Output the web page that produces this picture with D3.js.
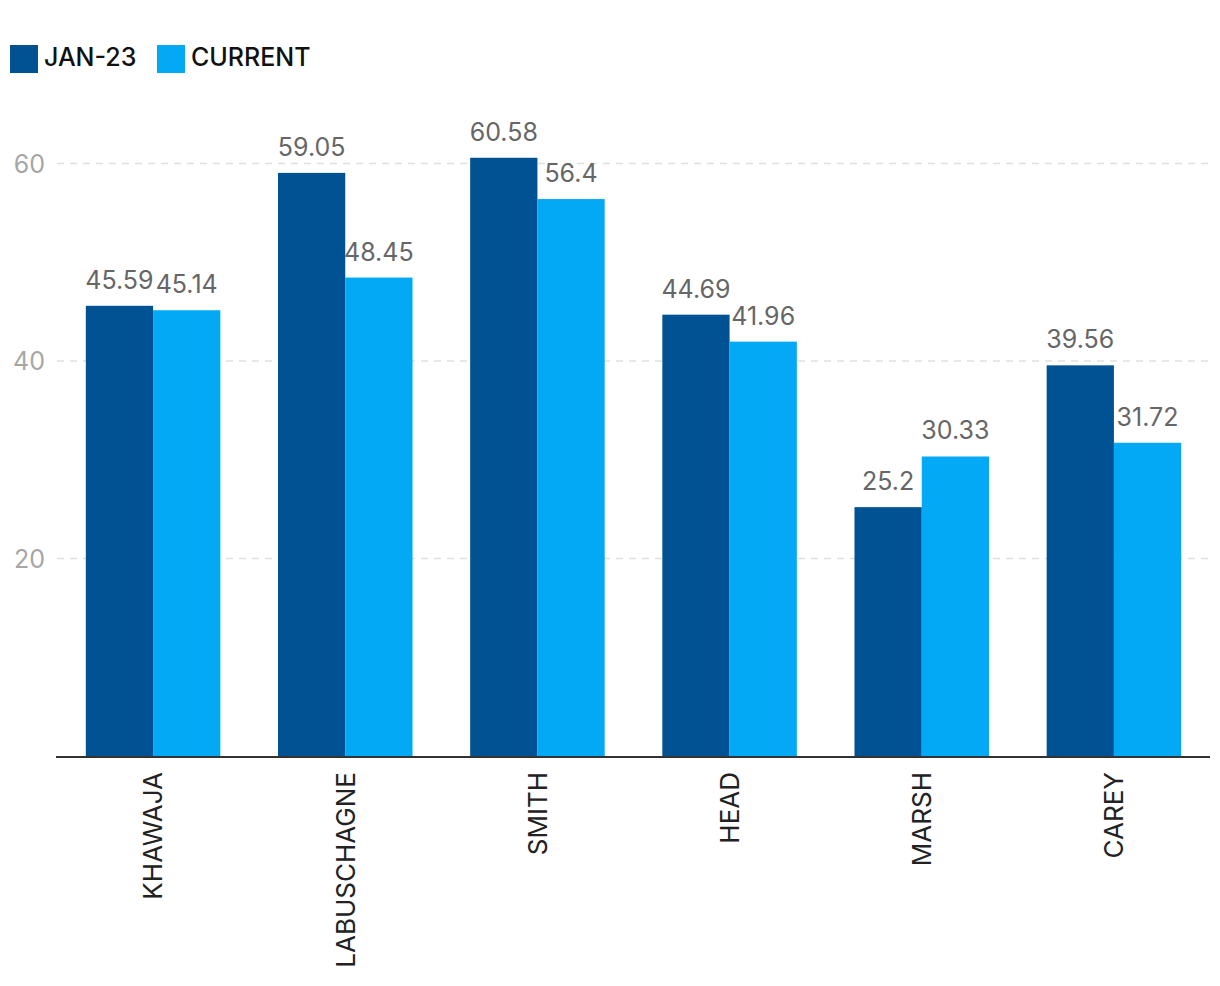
<!DOCTYPE html>
<html>
<head>
<meta charset="utf-8">
<script src="https://cdn.jsdelivr.net/npm/d3@7"></script>
<style>
  html, body { margin: 0; padding: 0; background: #fff; }
  svg { display: block; font-family: Inter, "Liberation Sans", Arial, sans-serif; }
</style>
</head>
<body>
<svg id="chart" width="1220" height="986"></svg>
<script>
const categories = ["KHAWAJA", "LABUSCHAGNE", "SMITH", "HEAD", "MARSH", "CAREY"];
const seriesNames = ["JAN-23", "CURRENT"];
const jan23 = [45.59, 59.05, 60.58, 44.69, 25.2, 39.56];
const current = [45.14, 48.45, 56.4, 41.96, 30.33, 31.72];
const yTicks = [20, 40, 60];
const colors = ["#005293", "#03a9f4"];

const svg = d3.select("#chart");
const x0 = d3.scaleBand().domain(categories).range([57, 1210]).paddingInner(0.3).paddingOuter(0.15);
const x1 = d3.scaleBand().domain(seriesNames).range([0, x0.bandwidth()]);
const y = d3.scaleLinear().domain([0, 60]).range([756, 163.5]);

// gridlines
svg.append("g").selectAll("line").data(yTicks).join("line")
  .attr("x1", 57).attr("x2", 1210)
  .attr("y1", d => y(d)).attr("y2", d => y(d))
  .attr("stroke", "#e0e0e0").attr("stroke-width", 1.5).attr("stroke-dasharray", "7,6");

// y tick labels
svg.append("g").selectAll("text").data(yTicks).join("text")
  .attr("x", 45).attr("y", d => y(d)).attr("dy", "0.36em")
  .attr("text-anchor", "end").attr("fill", "#a6a6a6").attr("font-size", 25)
  .text(d => d);

const data = categories.map((c, i) => ({ cat: c, vals: [jan23[i], current[i]] }));

const groups = svg.append("g").selectAll("g").data(data).join("g")
  .attr("transform", d => `translate(${x0(d.cat)},0)`);

groups.selectAll("rect").data(d => d.vals.map((v, j) => ({ v, s: seriesNames[j], j }))).join("rect")
  .attr("x", d => x1(d.s)).attr("width", x1.bandwidth())
  .attr("y", d => y(d.v)).attr("height", d => y(0) - y(d.v))
  .attr("fill", d => colors[d.j]);

groups.selectAll("text.val").data(d => d.vals.map((v, j) => ({ v, s: seriesNames[j], j }))).join("text")
  .attr("class", "val")
  .attr("x", d => x1(d.s) + x1.bandwidth() / 2).attr("y", d => y(d.v) - 17)
  .attr("text-anchor", "middle").attr("fill", "#666").attr("font-size", 25)
  .text(d => d.v);

// x axis line
svg.append("line").attr("x1", 56).attr("x2", 1210).attr("y1", 757).attr("y2", 757)
  .attr("stroke", "#333").attr("stroke-width", 2);

// category labels
svg.append("g").selectAll("text").data(categories).join("text")
  .attr("transform", d => `translate(${x0(d) + x0.bandwidth() / 2},772) rotate(-90)`)
  .attr("dy", "0.36em").attr("text-anchor", "end").attr("fill", "#222").attr("font-size", 26)
  .text(d => d);

// legend
const legend = svg.append("g");
const legendX = [10, 157];
seriesNames.forEach((s, i) => {
  legend.append("rect").attr("x", legendX[i]).attr("y", 45).attr("width", 28).attr("height", 28).attr("fill", colors[i]);
  legend.append("text").attr("x", legendX[i] + 34).attr("y", 57).attr("dy", "0.36em")
    .attr("fill", "#111").attr("font-size", 25).attr("font-weight", 500).text(s);
});
</script>
</body>
</html>
